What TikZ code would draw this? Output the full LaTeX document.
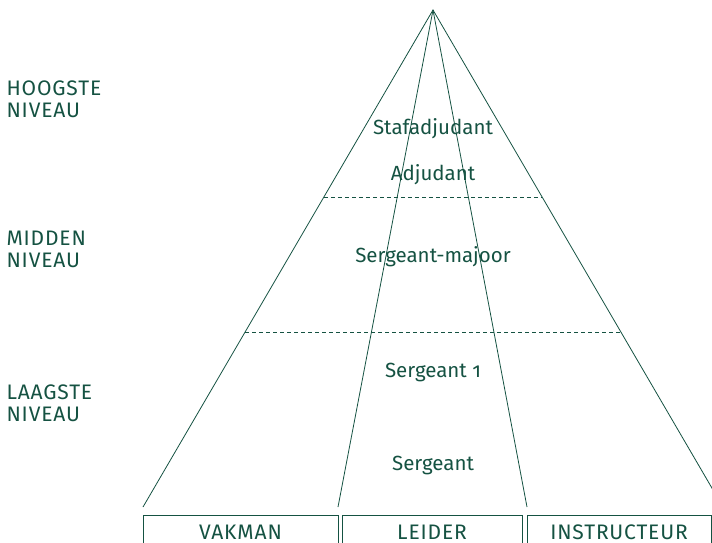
\documentclass[tikz,border=0pt]{standalone}
\usepackage{fontspec}
\setmainfont{Fira Sans}[Numbers=OldStyle]
\usetikzlibrary{calc}
\definecolor{rijkgroen}{RGB}{21,82,66}
\tikzset{
  lijn/.style={draw=rijkgroen, line width=0.8pt},
  streep/.style={draw=rijkgroen, line width=0.8pt, dash pattern=on 4pt off 3pt},
  rang/.style={text=rijkgroen, font=\fontsize{20.5}{24}\selectfont},
  kapitaal/.style={text=rijkgroen, font=\fontsize{21}{22}\selectfont\addfontfeature{LetterSpace=4}},
  niveau/.style={kapitaal, align=left, anchor=west}
}
\begin{document}
\begin{tikzpicture}[x=1pt,y=-1pt]
        \useasboundingbox (0,0) rectangle (712,543);
        %%%%%%%%%% Piramide %%%%%%%%%%
        \coordinate (top) at (433,10);
        \coordinate (links) at (143,507);
        \coordinate (rechts) at (723,507);
        \coordinate (midlinks) at (338,507);
        \coordinate (midrechts) at (527,507);
        \draw[lijn] (links) -- (top) -- (rechts);
        \draw[lijn] (top) -- (midlinks);
        \draw[lijn] (top) -- (midrechts);

        %%%%%%%%% Grenzen %%%%%%%%%
        \draw[streep] ($(top)!0.3763!(links)$) -- ($(top)!0.3763!(rechts)$);
        \draw[streep] ($(top)!0.6479!(links)$) -- ($(top)!0.6479!(rechts)$);

        %%%%%%%%% Rangen %%%%%%%%%
        \node[rang] (stafadj) at (433,129) {Stafadjudant};
        \node[rang] (adj) at (433,175) {Adjudant};
        \node[rang] (sgtmaj) at (433,257) {Sergeant-majoor};
        \node[rang] (sgt1) at (433,372) {Sergeant 1};
        \node[rang] (sgt) at (433,465) {Sergeant};

        %%%%%%%%% Niveaus %%%%%%%%%
        \node[niveau] (hoog) at (3,99) {HOOGSTE\\NIVEAU};
        \node[niveau] (midden) at (3,249) {MIDDEN\\NIVEAU};
        \node[niveau] (laag) at (3,403) {LAAGSTE\\NIVEAU};

        %%%%%%%%% Functies %%%%%%%%%
        \draw[lijn] (143,515) rectangle (338,560);
        \draw[lijn] (342,515) rectangle (522,560);
        \draw[lijn] (527,515) rectangle (711,560);
        \node[kapitaal] (vakman) at (240.5,532) {VAKMAN};
        \node[kapitaal] (leider) at (432,532) {LEIDER};
        \node[kapitaal] (instructeur) at (619,532) {INSTRUCTEUR};
\end{tikzpicture}
\end{document}
